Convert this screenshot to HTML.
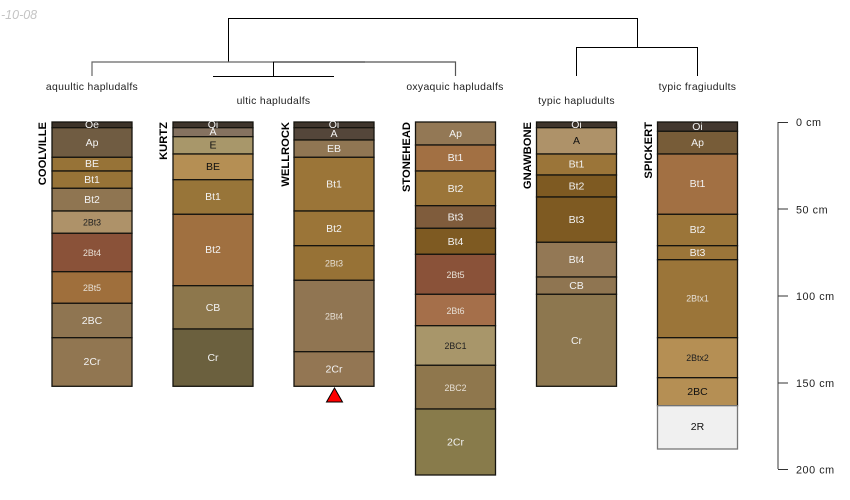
<!DOCTYPE html>
<html><head><meta charset="utf-8"><style>
html,body{margin:0;padding:0;background:#fff}
svg{display:block}
text{font-family:"Liberation Sans",sans-serif}
.l text{font-size:10.5px;text-anchor:middle;dominant-baseline:central;fill:#f2f2f2}
.l text.s{font-size:8.8px;fill:#e6dfd5}
.l text.k{fill:#111}
.l text.ks{font-size:8.8px;fill:#222}
.l rect{stroke:#16140f;stroke-width:1.3}
.n{font-size:11.2px;font-weight:bold;text-anchor:end;fill:#000}
.t{font-size:10.4px;text-anchor:middle;fill:#222;letter-spacing:.32px}
.a{font-size:10.8px;fill:#222;letter-spacing:.55px}
</style></head><body>
<svg width="850" height="500" viewBox="0 0 850 500" xmlns="http://www.w3.org/2000/svg">
<text x="1" y="19" style="font-size:12.5px;font-style:italic;fill:#c4c4c4">-10-08</text>

<g fill="none" stroke="#000" stroke-width="1">
<path d="M228.500 62V18.500H637.500V47"/>
<path d="M576.500 76V47.500H697.500V76"/>
<path d="M273.500 62V76"/>
<path d="M213 76.500H334"/>
<path d="M273 62H365"/>
</g>
<g fill="none" stroke="#666" stroke-width="1.200">
<path d="M92 76V62H273"/>
<path d="M365 62H455.500V76" stroke="#555"/>
</g>
<text class="t" x="92" y="90">aquultic hapludalfs</text>
<text class="t" x="273.500" y="104">ultic hapludalfs</text>
<text class="t" x="455" y="90">oxyaquic hapludalfs</text>
<text class="t" x="576.500" y="104">typic hapludults</text>
<text class="t" x="697.500" y="90">typic fragiudults</text>

<text class="n" transform="translate(46,122) rotate(-90)">COOLVILLE</text>
<text class="n" transform="translate(167,122) rotate(-90)">KURTZ</text>
<text class="n" transform="translate(289,122) rotate(-90)">WELLROCK</text>
<text class="n" transform="translate(410,122) rotate(-90)">STONEHEAD</text>
<text class="n" transform="translate(531,122) rotate(-90)">GNAWBONE</text>
<text class="n" transform="translate(652,122) rotate(-90)">SPICKERT</text>

<g class="l">
<rect x="52" y="122" width="80" height="5.700" fill="#3d3329"/>
<rect x="52" y="127.700" width="80" height="29.600" fill="#705c42"/><text x="92" y="143">Ap</text>
<rect x="52" y="157.300" width="80" height="13.700" fill="#977337"/><text x="92" y="164">BE</text>
<rect x="52" y="171" width="80" height="17.300" fill="#977337"/><text x="92" y="180">Bt1</text>
<rect x="52" y="188.300" width="80" height="22.700" fill="#8f7551"/><text x="92" y="200">Bt2</text>
<rect x="52" y="211" width="80" height="22.300" fill="#ae9269"/><text class="ks" x="92" y="222.500">2Bt3</text>
<rect x="52" y="233.300" width="80" height="38.400" fill="#8a5239"/><text class="s" x="92" y="253">2Bt4</text>
<rect x="52" y="271.700" width="80" height="31.600" fill="#9f6f3c"/><text class="s" x="92" y="288">2Bt5</text>
<rect x="52" y="303.300" width="80" height="34.400" fill="#8f7551"/><text x="92" y="321">2BC</text>
<rect x="52" y="337.700" width="80" height="48.600" fill="#917651"/><text x="92" y="362">2Cr</text>
<text x="92" y="125">Oe</text>
</g>
<g class="l">
<rect x="173" y="122" width="80" height="5.700" fill="#3f352c"/>
<rect x="173" y="127.700" width="80" height="9" fill="#857260"/>
<rect x="173" y="136.700" width="80" height="17.300" fill="#a8976a"/><text class="k" x="213" y="145.500">E</text>
<rect x="173" y="154" width="80" height="25.700" fill="#b58f54"/><text class="k" x="213" y="167">BE</text>
<rect x="173" y="179.700" width="80" height="34.600" fill="#987539"/><text x="213" y="197">Bt1</text>
<rect x="173" y="214.300" width="80" height="71.400" fill="#a07040"/><text x="213" y="250">Bt2</text>
<rect x="173" y="285.700" width="80" height="43.300" fill="#8d774c"/><text x="213" y="308">CB</text>
<rect x="173" y="329" width="80" height="57.300" fill="#6b603e"/><text x="213" y="358">Cr</text>
<text x="213" y="125">Oi</text>
<text x="213" y="132">A</text>
</g>
<g class="l">
<rect x="294" y="122" width="80" height="5.700" fill="#3f352c"/>
<rect x="294" y="127.700" width="80" height="12.300" fill="#54463a"/>
<rect x="294" y="140" width="80" height="17.300" fill="#907653"/><text x="334" y="149">EB</text>
<rect x="294" y="157.300" width="80" height="53.700" fill="#9b7538"/><text x="334" y="184.500">Bt1</text>
<rect x="294" y="211" width="80" height="34.700" fill="#9b7538"/><text x="334" y="229">Bt2</text>
<rect x="294" y="245.700" width="80" height="34.600" fill="#977236"/><text class="s" x="334" y="263.500">2Bt3</text>
<rect x="294" y="280.300" width="80" height="71.400" fill="#907552"/><text class="s" x="334" y="316.500">2Bt4</text>
<rect x="294" y="351.700" width="80" height="34.600" fill="#937653"/><text x="334" y="369.500">2Cr</text>
<text x="334" y="125">Oi</text>
<text x="334" y="134">A</text>
</g>
<g class="l">
<rect x="415.500" y="122" width="80" height="23" fill="#937855"/><text x="455.500" y="134">Ap</text>
<rect x="415.500" y="145" width="80" height="26" fill="#a27043"/><text x="455.500" y="158">Bt1</text>
<rect x="415.500" y="171" width="80" height="34.700" fill="#9b7539"/><text x="455.500" y="189">Bt2</text>
<rect x="415.500" y="205.700" width="80" height="22.600" fill="#7f5c3c"/><text x="455.500" y="217.500">Bt3</text>
<rect x="415.500" y="228.300" width="80" height="26" fill="#7e5a22"/><text x="455.500" y="242">Bt4</text>
<rect x="415.500" y="254.300" width="80" height="40" fill="#8a5239"/><text class="s" x="455.500" y="275">2Bt5</text>
<rect x="415.500" y="294.300" width="80" height="31.400" fill="#a56f4a"/><text class="s" x="455.500" y="311">2Bt6</text>
<rect x="415.500" y="325.700" width="80" height="39.600" fill="#a8966a"/><text class="ks" x="455.500" y="346">2BC1</text>
<rect x="415.500" y="365.300" width="80" height="43.700" fill="#8f774d"/><text class="s" x="455.500" y="388">2BC2</text>
<rect x="415.500" y="409" width="80" height="66" fill="#887b4b"/><text x="455.500" y="442.500">2Cr</text>
</g>
<g class="l">
<rect x="536.500" y="122" width="80" height="5.700" fill="#3f352c"/>
<rect x="536.500" y="127.700" width="80" height="26.300" fill="#ae9269"/><text class="k" x="576.500" y="141">A</text>
<rect x="536.500" y="154" width="80" height="21" fill="#9b7539"/><text x="576.500" y="164.500">Bt1</text>
<rect x="536.500" y="175" width="80" height="22" fill="#7e5a22"/><text x="576.500" y="186.500">Bt2</text>
<rect x="536.500" y="197" width="80" height="45.300" fill="#7e5a22"/><text x="576.500" y="220">Bt3</text>
<rect x="536.500" y="242.300" width="80" height="34.700" fill="#937855"/><text x="576.500" y="260">Bt4</text>
<rect x="536.500" y="277" width="80" height="17.300" fill="#8f7551"/><text x="576.500" y="286">CB</text>
<rect x="536.500" y="294.300" width="80" height="92" fill="#8d774f"/><text x="576.500" y="341">Cr</text>
<text x="576.500" y="125">Oi</text>
</g>
<g class="l">
<rect x="657.500" y="122" width="80" height="9.300" fill="#43382f"/><text x="697.500" y="127">Oi</text>
<rect x="657.500" y="131.300" width="80" height="22.700" fill="#775c38"/><text x="697.500" y="143">Ap</text>
<rect x="657.500" y="154" width="80" height="60.300" fill="#a27043"/><text x="697.500" y="184">Bt1</text>
<rect x="657.500" y="214.300" width="80" height="31.400" fill="#9b7539"/><text x="697.500" y="230">Bt2</text>
<rect x="657.500" y="245.700" width="80" height="14" fill="#9b7539"/><text x="697.500" y="253">Bt3</text>
<rect x="657.500" y="259.700" width="80" height="78" fill="#9b7539"/><text class="s" x="697.500" y="298.500">2Btx1</text>
<rect x="657.500" y="337.700" width="80" height="40" fill="#b58f54"/><text class="ks" x="697.500" y="358">2Btx2</text>
<rect x="657.500" y="377.700" width="80" height="28" fill="#b58f54"/><text class="k" x="697.500" y="392">2BC</text>
<rect x="657.500" y="405.700" width="80" height="43.300" fill="#f0f0f0" style="stroke:#777"/><text class="k" x="697.500" y="427">2R</text>
</g>

<polygon points="334.500,388 326.500,402 342.500,402" fill="#f00" stroke="#000" stroke-width="1"/>

<path d="M778 122V469" stroke="#666" stroke-width="1.300" fill="none"/>
<path d="M778 122.500H788M778 209H788M778 296H788M778 383H788M778 469.500H788" stroke="#333" stroke-width="1" fill="none"/>
<text class="a" x="796" y="126">0 cm</text>
<text class="a" x="796" y="213.500">50 cm</text>
<text class="a" x="796" y="300">100 cm</text>
<text class="a" x="796" y="387">150 cm</text>
<text class="a" x="796" y="473.500">200 cm</text>
</svg>
</body></html>
